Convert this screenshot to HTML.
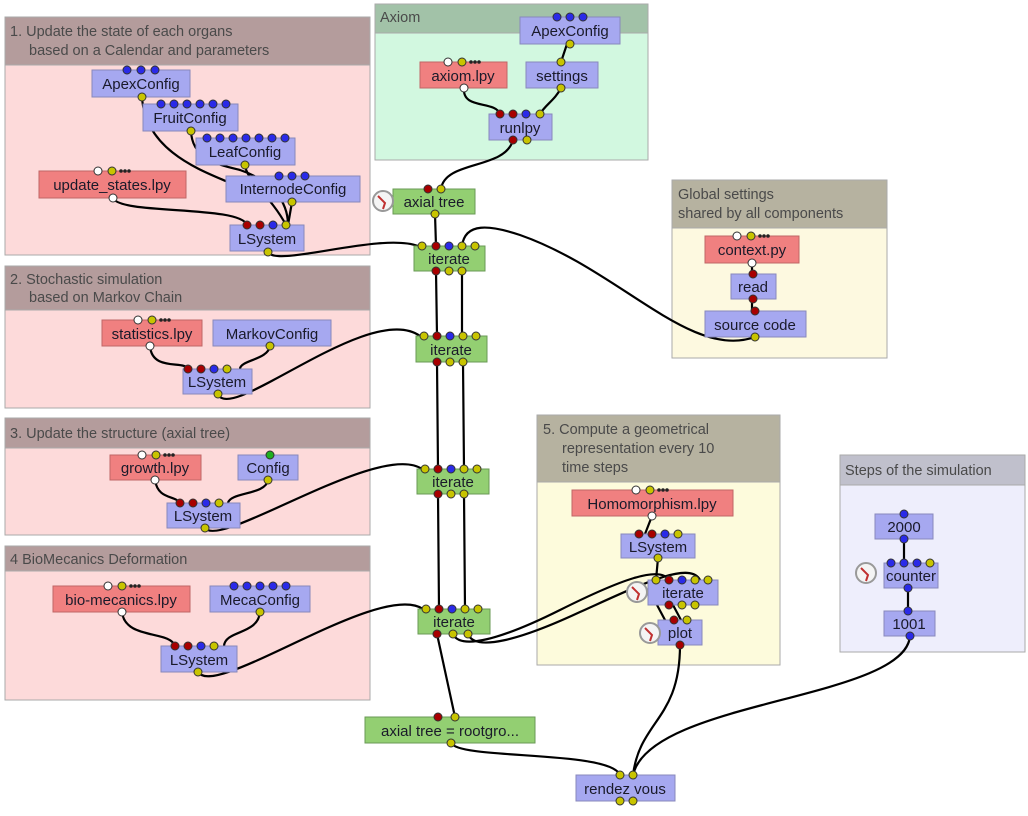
<!DOCTYPE html>
<html><head><meta charset="utf-8"><style>
body{margin:0;background:#fff;width:1028px;height:811px;overflow:hidden}
svg text{font-family:"Liberation Sans",sans-serif}
.t{font-size:15px;fill:#1a1a2a;text-anchor:middle}
.g{font-size:14.5px;fill:#4a4a4a}
.e{fill:none;stroke:#000;stroke-width:2.2}
.b{fill:#a6a8f0;stroke:#8888bb}
.r{fill:#f08080;stroke:#c06666}
.n{fill:#93cf72;stroke:#6a9a55}
.Y{fill:#c8c400;stroke:#333;stroke-width:1}
.R{fill:#a80000;stroke:#333;stroke-width:1}
.B{fill:#2a2ae8;stroke:#333;stroke-width:1}
.W{fill:#fff;stroke:#333;stroke-width:1}
.k{fill:#222}
</style></head><body>
<svg width="1028" height="811" xmlns="http://www.w3.org/2000/svg">
<g stroke="#aaa" stroke-width="1">
<rect x="5" y="17" width="365" height="238" fill="#fddada"/><rect x="5" y="17" width="365" height="48" fill="#b49c9c"/>
<rect x="375" y="4" width="273" height="156" fill="#d2f8e0"/><rect x="375" y="4" width="273" height="29" fill="#a2c2a8"/>
<rect x="5" y="266" width="365" height="142" fill="#fddada"/><rect x="5" y="266" width="365" height="44" fill="#b49c9c"/>
<rect x="5" y="418" width="365" height="117" fill="#fddada"/><rect x="5" y="418" width="365" height="30" fill="#b49c9c"/>
<rect x="5" y="546" width="365" height="154" fill="#fddada"/><rect x="5" y="546" width="365" height="25" fill="#b49c9c"/>
<rect x="672" y="180" width="215" height="178" fill="#fdf9e0"/><rect x="672" y="180" width="215" height="48" fill="#b6b2a0"/>
<rect x="537" y="415" width="243" height="250" fill="#fdfbdc"/><rect x="537" y="415" width="243" height="67" fill="#b6b2a0"/>
<rect x="840" y="455" width="185" height="197" fill="#eeeefc"/><rect x="840" y="455" width="185" height="30" fill="#c0c0cc"/>
</g>
<text class="g" x="10" y="36">1. Update the state of each organs</text>
<text class="g" x="29" y="55">based on a Calendar and parameters</text>
<text class="g" x="380" y="22">Axiom</text>
<text class="g" x="10" y="284">2. Stochastic simulation</text>
<text class="g" x="29" y="302">based on Markov Chain</text>
<text class="g" x="10" y="438">3. Update the structure (axial tree)</text>
<text class="g" x="10" y="564">4 BioMecanics Deformation</text>
<text class="g" x="678" y="199">Global settings</text>
<text class="g" x="678" y="218">shared by all components</text>
<text class="g" x="543" y="434">5. Compute a geometrical</text>
<text class="g" x="562" y="453">representation every 10</text>
<text class="g" x="562" y="472">time steps</text>
<text class="g" x="845" y="475">Steps of the simulation</text>

<g class="e">
<path d="M142,97 C145,150 200,170 228,182"/>
<path d="M191,131 C192,160 220,165 240,170 C270,180 288,200 288,225"/>
<path d="M245,165 C246,180 270,195 286,225"/>
<path d="M292,202 L288,225"/>
<path d="M113,198 C120,215 240,205 247,225"/>
<path d="M268,252 C275,268 380,232 418,246"/>
<path d="M513,140 C505,170 445,160 441,189"/>
<path d="M567,44 L561,62"/><path d="M561,88 C555,100 545,105 540,114"/>
<path d="M464,88 C462,110 495,100 500,114"/>
<path d="M435,214 L436,246"/>
<path d="M436,271 L437,336 M437,362 L438,469 M438,494 L439,609"/>
<path d="M462,271 L462,336 M463,362 L464,469 M464,494 L465,609"/>
<path d="M462,246 C465,222 490,225 520,235 C620,270 690,360 755,337"/>
<path d="M218,394 C230,425 370,300 420,336"/>
<path d="M205,528 C220,550 380,440 422,469"/>
<path d="M198,672 C215,700 380,580 423,609"/>
<path d="M437,634 L455,717"/>
<path d="M453,634 C460,650 500,640 560,610 C620,580 660,565 669,580"/>
<path d="M468,634 C475,652 520,640 580,612 C640,585 690,560 700,580"/>
<path d="M658,558 L656,580"/>
<path d="M680,645 C680,720 640,720 633,775"/>
<path d="M910,636 C905,700 650,700 633,775"/>
<path d="M451,743 C460,760 610,750 620,775"/>
<path d="M904,539 L904,563 M908,588 L908,611"/>
<path d="M150,346 C152,372 185,360 188,369"/>
<path d="M270,346 C268,360 240,360 240,369"/>
<path d="M155,480 C158,500 175,495 180,503"/>
<path d="M268,480 C266,495 230,492 228,503"/>
<path d="M122,612 C125,640 170,630 175,646"/>
<path d="M260,612 C258,635 225,630 224,646"/>
<path d="M752,263 L752,311"/>
<path d="M652,516 L645,534"/>
<path d="M657,605 L665,620 M673,605 L681,620"/>
</g>

<g stroke-width="1">
<rect class="b" x="92" y="70" width="98" height="27"/>
<rect class="b" x="143" y="104" width="95" height="27"/>
<rect class="b" x="196" y="138" width="99" height="27"/>
<rect class="b" x="226" y="176" width="134" height="26"/>
<rect class="r" x="39" y="171" width="147" height="27"/>
<rect class="b" x="230" y="225" width="74" height="26"/>
<rect class="b" x="520" y="17" width="100" height="27"/>
<rect class="r" x="420" y="62" width="87" height="26"/>
<rect class="b" x="526" y="62" width="72" height="26"/>
<rect class="b" x="489" y="114" width="63" height="26"/>
<rect class="n" x="393" y="189" width="82" height="25"/>
<rect class="n" x="414" y="246" width="71" height="25"/>
<rect class="n" x="416" y="336" width="71" height="26"/>
<rect class="n" x="417" y="469" width="72" height="25"/>
<rect class="n" x="418" y="609" width="72" height="25"/>
<rect class="r" x="102" y="320" width="100" height="26"/>
<rect class="b" x="213" y="320" width="118" height="26"/>
<rect class="b" x="183" y="369" width="69" height="25"/>
<rect class="r" x="110" y="455" width="91" height="25"/>
<rect class="b" x="238" y="455" width="60" height="25"/>
<rect class="b" x="167" y="503" width="73" height="25"/>
<rect class="r" x="53" y="586" width="137" height="26"/>
<rect class="b" x="210" y="586" width="100" height="26"/>
<rect class="b" x="161" y="646" width="76" height="26"/>
<rect class="r" x="705" y="236" width="94" height="27"/>
<rect class="b" x="731" y="274" width="45" height="25"/>
<rect class="b" x="705" y="311" width="101" height="26"/>
<rect class="r" x="572" y="490" width="161" height="26"/>
<rect class="b" x="621" y="534" width="74" height="24"/>
<rect class="b" x="648" y="580" width="70" height="25"/>
<rect class="b" x="658" y="620" width="44" height="25"/>
<rect class="b" x="875" y="514" width="58" height="25"/>
<rect class="b" x="884" y="563" width="54" height="25"/>
<rect class="b" x="884" y="611" width="51" height="25"/>
<rect class="n" x="365" y="717" width="170" height="26"/>
<rect class="b" x="576" y="775" width="99" height="26"/>
</g>
<g fill="#f4f4f4" stroke="#999" stroke-width="2">
<circle cx="383" cy="201" r="10"/><circle cx="637" cy="592" r="10"/><circle cx="650" cy="633" r="10"/><circle cx="866" cy="573" r="10"/>
</g>
<g stroke="#c03030" stroke-width="2" fill="none">
<path d="M378,196 L385,203 L383,209"/><path d="M632,587 L639,594 L637,600"/><path d="M645,628 L652,635 L650,641"/><path d="M861,568 L868,575 L866,581"/>
</g>
<text class="t" x="141" y="89">ApexConfig</text>
<text class="t" x="190" y="123">FruitConfig</text>
<text class="t" x="245" y="157">LeafConfig</text>
<text class="t" x="293" y="194">InternodeConfig</text>
<text class="t" x="112" y="190">update_states.lpy</text>
<text class="t" x="267" y="244">LSystem</text>
<text class="t" x="570" y="36">ApexConfig</text>
<text class="t" x="463" y="81">axiom.lpy</text>
<text class="t" x="562" y="81">settings</text>
<text class="t" x="520" y="133">runlpy</text>
<text class="t" x="434" y="207">axial tree</text>
<text class="t" x="449" y="264">iterate</text>
<text class="t" x="451" y="355">iterate</text>
<text class="t" x="453" y="487">iterate</text>
<text class="t" x="454" y="627">iterate</text>
<text class="t" x="152" y="339">statistics.lpy</text>
<text class="t" x="272" y="339">MarkovConfig</text>
<text class="t" x="217" y="387">LSystem</text>
<text class="t" x="155" y="473">growth.lpy</text>
<text class="t" x="268" y="473">Config</text>
<text class="t" x="203" y="521">LSystem</text>
<text class="t" x="121" y="605">bio-mecanics.lpy</text>
<text class="t" x="260" y="605">MecaConfig</text>
<text class="t" x="199" y="665">LSystem</text>
<text class="t" x="752" y="255">context.py</text>
<text class="t" x="753" y="292">read</text>
<text class="t" x="755" y="330">source code</text>
<text class="t" x="652" y="509">Homomorphism.lpy</text>
<text class="t" x="658" y="552">LSystem</text>
<text class="t" x="683" y="598">iterate</text>
<text class="t" x="680" y="638">plot</text>
<text class="t" x="904" y="532">2000</text>
<text class="t" x="911" y="581">counter</text>
<text class="t" x="909" y="629">1001</text>
<text class="t" x="450" y="736">axial tree = rootgro...</text>
<text class="t" x="625" y="794">rendez vous</text>

<!-- ellipsis dots -->
<g class="k">
<circle cx="121" cy="171" r="1.8"/><circle cx="125" cy="171" r="1.8"/><circle cx="129" cy="171" r="1.8"/>
<circle cx="471" cy="62" r="1.8"/><circle cx="475" cy="62" r="1.8"/><circle cx="479" cy="62" r="1.8"/>
<circle cx="161" cy="320" r="1.8"/><circle cx="165" cy="320" r="1.8"/><circle cx="169" cy="320" r="1.8"/>
<circle cx="165" cy="455" r="1.8"/><circle cx="169" cy="455" r="1.8"/><circle cx="173" cy="455" r="1.8"/>
<circle cx="131" cy="586" r="1.8"/><circle cx="135" cy="586" r="1.8"/><circle cx="139" cy="586" r="1.8"/>
<circle cx="760" cy="236" r="1.8"/><circle cx="764" cy="236" r="1.8"/><circle cx="768" cy="236" r="1.8"/>
<circle cx="659" cy="490" r="1.8"/><circle cx="663" cy="490" r="1.8"/><circle cx="667" cy="490" r="1.8"/>
</g>
<g>
<circle class="B" cx="127" cy="70" r="4"/><circle class="B" cx="141" cy="70" r="4"/><circle class="B" cx="155" cy="70" r="4"/><circle class="Y" cx="142" cy="97" r="4"/>
<circle class="B" cx="161" cy="104" r="4"/><circle class="B" cx="174" cy="104" r="4"/><circle class="B" cx="187" cy="104" r="4"/><circle class="B" cx="200" cy="104" r="4"/><circle class="B" cx="213" cy="104" r="4"/><circle class="B" cx="226" cy="104" r="4"/><circle class="Y" cx="191" cy="131" r="4"/>
<circle class="B" cx="207" cy="138" r="4"/><circle class="B" cx="220" cy="138" r="4"/><circle class="B" cx="233" cy="138" r="4"/><circle class="B" cx="246" cy="138" r="4"/><circle class="B" cx="259" cy="138" r="4"/><circle class="B" cx="272" cy="138" r="4"/><circle class="B" cx="285" cy="138" r="4"/><circle class="Y" cx="245" cy="165" r="4"/>
<circle class="B" cx="279" cy="176" r="4"/><circle class="B" cx="292" cy="176" r="4"/><circle class="B" cx="305" cy="176" r="4"/><circle class="Y" cx="292" cy="202" r="4"/>
<circle class="W" cx="98" cy="171" r="4"/><circle class="Y" cx="112" cy="171" r="4"/><circle class="W" cx="113" cy="198" r="4"/>
<circle class="R" cx="247" cy="225" r="4"/><circle class="R" cx="260" cy="225" r="4"/><circle class="B" cx="273" cy="225" r="4"/><circle class="Y" cx="286" cy="225" r="4"/><circle class="Y" cx="268" cy="252" r="4"/>
<circle class="B" cx="557" cy="17" r="4"/><circle class="B" cx="570" cy="17" r="4"/><circle class="B" cx="583" cy="17" r="4"/><circle class="Y" cx="570" cy="44" r="4"/>
<circle class="W" cx="448" cy="62" r="4"/><circle class="Y" cx="462" cy="62" r="4"/><circle class="W" cx="464" cy="88" r="4"/>
<circle class="Y" cx="561" cy="62" r="4"/><circle class="Y" cx="561" cy="88" r="4"/>
<circle class="R" cx="500" cy="114" r="4"/><circle class="R" cx="513" cy="114" r="4"/><circle class="B" cx="526" cy="114" r="4"/><circle class="Y" cx="540" cy="114" r="4"/><circle class="R" cx="513" cy="140" r="4"/><circle class="Y" cx="527" cy="140" r="4"/>
<circle class="R" cx="428" cy="189" r="4"/><circle class="Y" cx="441" cy="189" r="4"/><circle class="Y" cx="435" cy="214" r="4"/>
<circle class="Y" cx="422" cy="246" r="4"/><circle class="R" cx="436" cy="246" r="4"/><circle class="B" cx="449" cy="246" r="4"/><circle class="Y" cx="462" cy="246" r="4"/><circle class="Y" cx="475" cy="246" r="4"/>
<circle class="R" cx="436" cy="271" r="4"/><circle class="Y" cx="449" cy="271" r="4"/><circle class="Y" cx="462" cy="271" r="4"/>
<circle class="Y" cx="424" cy="336" r="4"/><circle class="R" cx="437" cy="336" r="4"/><circle class="B" cx="450" cy="336" r="4"/><circle class="Y" cx="463" cy="336" r="4"/><circle class="Y" cx="476" cy="336" r="4"/>
<circle class="R" cx="437" cy="362" r="4"/><circle class="Y" cx="450" cy="362" r="4"/><circle class="Y" cx="463" cy="362" r="4"/>
<circle class="Y" cx="425" cy="469" r="4"/><circle class="R" cx="438" cy="469" r="4"/><circle class="B" cx="451" cy="469" r="4"/><circle class="Y" cx="464" cy="469" r="4"/><circle class="Y" cx="477" cy="469" r="4"/>
<circle class="R" cx="438" cy="494" r="4"/><circle class="Y" cx="451" cy="494" r="4"/><circle class="Y" cx="464" cy="494" r="4"/>
<circle class="Y" cx="426" cy="609" r="4"/><circle class="R" cx="439" cy="609" r="4"/><circle class="B" cx="452" cy="609" r="4"/><circle class="Y" cx="465" cy="609" r="4"/><circle class="Y" cx="478" cy="609" r="4"/>
<circle class="R" cx="437" cy="634" r="4"/><circle class="Y" cx="453" cy="634" r="4"/><circle class="Y" cx="468" cy="634" r="4"/>
<circle class="W" cx="138" cy="320" r="4"/><circle class="Y" cx="152" cy="320" r="4"/><circle class="W" cx="150" cy="346" r="4"/><circle class="Y" cx="270" cy="346" r="4"/>
<circle class="R" cx="188" cy="369" r="4"/><circle class="R" cx="201" cy="369" r="4"/><circle class="B" cx="214" cy="369" r="4"/><circle class="Y" cx="227" cy="369" r="4"/><circle class="Y" cx="218" cy="394" r="4"/>
<circle class="W" cx="142" cy="455" r="4"/><circle class="Y" cx="156" cy="455" r="4"/><circle class="W" cx="155" cy="480" r="4"/>
<circle fill="#20b020" stroke="#333" cx="270" cy="455" r="4"/><circle class="Y" cx="268" cy="480" r="4"/>
<circle class="R" cx="180" cy="503" r="4"/><circle class="R" cx="193" cy="503" r="4"/><circle class="B" cx="206" cy="503" r="4"/><circle class="Y" cx="219" cy="503" r="4"/><circle class="Y" cx="205" cy="528" r="4"/>
<circle class="W" cx="108" cy="586" r="4"/><circle class="Y" cx="122" cy="586" r="4"/><circle class="W" cx="122" cy="612" r="4"/>
<circle class="B" cx="234" cy="586" r="4"/><circle class="B" cx="247" cy="586" r="4"/><circle class="B" cx="260" cy="586" r="4"/><circle class="B" cx="273" cy="586" r="4"/><circle class="B" cx="286" cy="586" r="4"/><circle class="Y" cx="260" cy="612" r="4"/>
<circle class="R" cx="175" cy="646" r="4"/><circle class="R" cx="188" cy="646" r="4"/><circle class="B" cx="201" cy="646" r="4"/><circle class="Y" cx="214" cy="646" r="4"/><circle class="Y" cx="198" cy="672" r="4"/>
<circle class="W" cx="737" cy="236" r="4"/><circle class="Y" cx="751" cy="236" r="4"/><circle class="W" cx="752" cy="263" r="4"/>
<circle class="R" cx="753" cy="274" r="4"/><circle class="R" cx="753" cy="299" r="4"/><circle class="R" cx="755" cy="311" r="4"/><circle class="Y" cx="755" cy="337" r="4"/>
<circle class="W" cx="636" cy="490" r="4"/><circle class="Y" cx="650" cy="490" r="4"/><circle class="W" cx="652" cy="516" r="4"/>
<circle class="R" cx="639" cy="534" r="4"/><circle class="R" cx="652" cy="534" r="4"/><circle class="B" cx="665" cy="534" r="4"/><circle class="Y" cx="678" cy="534" r="4"/><circle class="Y" cx="658" cy="558" r="4"/>
<circle class="Y" cx="656" cy="580" r="4"/><circle class="R" cx="669" cy="580" r="4"/><circle class="B" cx="682" cy="580" r="4"/><circle class="Y" cx="695" cy="580" r="4"/><circle class="Y" cx="708" cy="580" r="4"/>
<circle class="R" cx="669" cy="605" r="4"/><circle class="Y" cx="682" cy="605" r="4"/><circle class="Y" cx="695" cy="605" r="4"/>
<circle class="R" cx="674" cy="620" r="4"/><circle class="Y" cx="687" cy="620" r="4"/><circle class="R" cx="680" cy="645" r="4"/>
<circle class="B" cx="904" cy="514" r="4"/><circle class="B" cx="904" cy="539" r="4"/>
<circle class="B" cx="891" cy="563" r="4"/><circle class="B" cx="904" cy="563" r="4"/><circle class="B" cx="917" cy="563" r="4"/><circle class="Y" cx="930" cy="563" r="4"/><circle class="B" cx="908" cy="588" r="4"/>
<circle class="B" cx="908" cy="611" r="4"/><circle class="B" cx="910" cy="636" r="4"/>
<circle class="R" cx="438" cy="717" r="4"/><circle class="Y" cx="455" cy="717" r="4"/><circle class="Y" cx="451" cy="743" r="4"/>
<circle class="Y" cx="620" cy="775" r="4"/><circle class="Y" cx="633" cy="775" r="4"/><circle class="Y" cx="620" cy="801" r="4"/><circle class="Y" cx="633" cy="801" r="4"/>
</g>
</svg>
</body></html>
